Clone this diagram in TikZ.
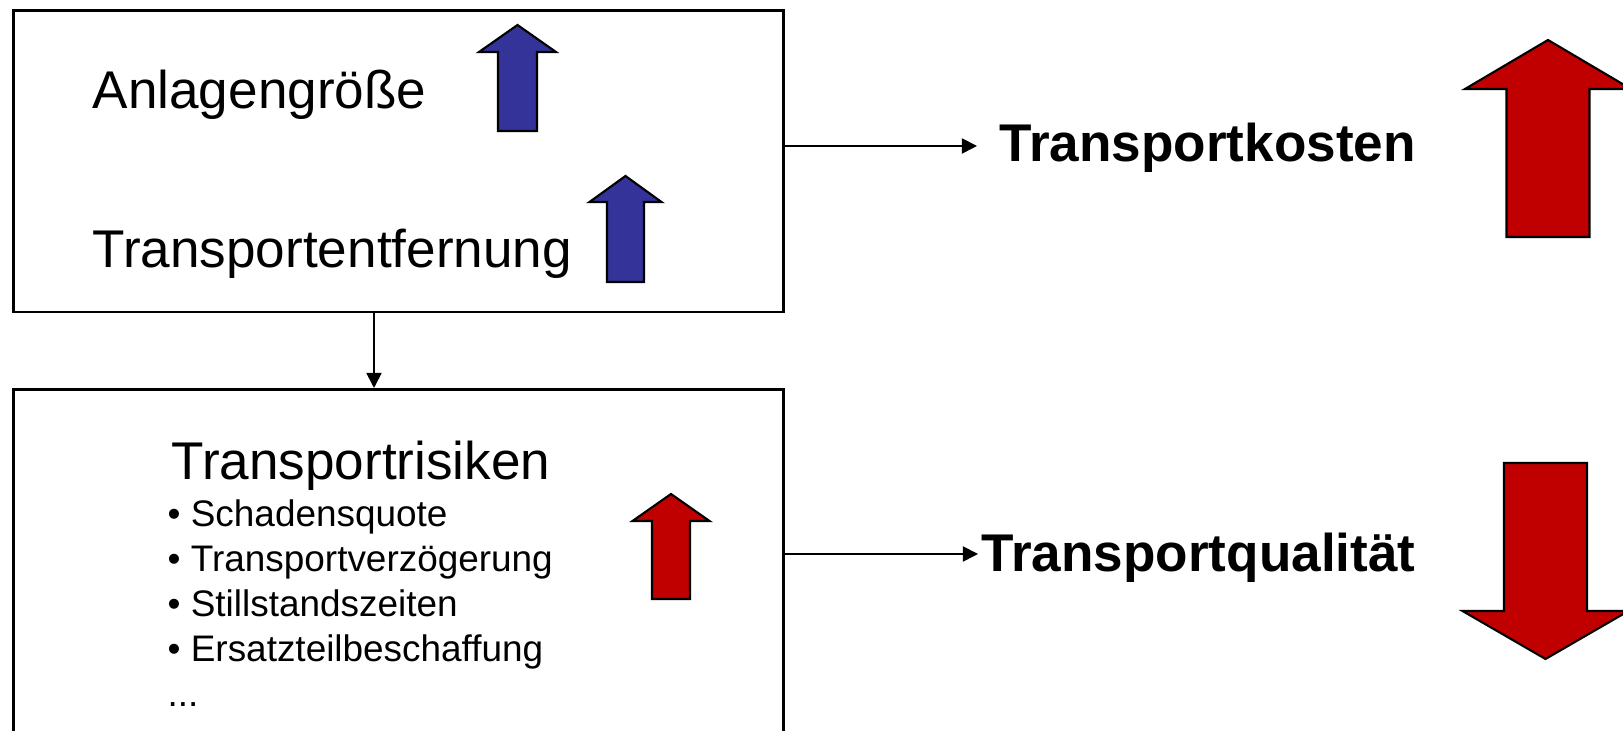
\documentclass[tikz,border=0pt]{standalone}
\usepackage{fontspec}
\setmainfont{Liberation Sans}
\usetikzlibrary{arrows.meta}
\definecolor{hochblau}{RGB}{51,51,153}
\definecolor{hochrot}{RGB}{192,0,0}
\begin{document}
\begin{tikzpicture}[x=0.01cm,y=-0.01cm,line join=miter,>={Triangle[length=4.3pt,width=4.3pt]},
	box/.style={draw,line width=0.8pt,inner sep=0,anchor=north west,minimum width=7.696cm},
	gross/.style={inner sep=0,anchor=base west,font=\fontsize{15.1pt}{18pt}\selectfont},
	fett/.style={gross,font=\fontsize{15.1pt}{18pt}\selectfont\bfseries},
	klein/.style={inner sep=0,anchor=base west,font=\fontsize{10.5pt}{12.75pt}\selectfont}]
	\useasboundingbox[fill=white](0,0)rectangle(1623,731);
	\node[box,minimum height=3.012cm](groesse)at(12.4,9.3){};
	\node[box,minimum height=4cm](risiken)at(12.4,388){};
	\node[gross](anlage)at(92,109){Anlagengröße};
	\node[gross](entfernung)at(92,268){Transportentfernung};
	\node[gross](titel)at(171,480){Transportrisiken};
	\foreach \t[count=\i from 0] in{• Schadensquote,• Transportverzögerung,• Stillstandszeiten,• Ersatzteilbeschaffung}
	\node[klein](punkt\i)at(167,527+44.8*\i){\t};
	\node[klein](weiter)at(167,707){...};
	\node[fett](kosten)at(999,162){Transportkosten};
	\node[fett](qualitaet)at(981,572){Transportqualität};
	\coordinate(knick)at(374,0);
	\coordinate(kostenpfeil)at([yshift=0.16cm]kosten.base west);
	\coordinate(qualpfeil)at([yshift=0.18cm]qualitaet.base west);
	\draw[->,line width=0.5pt](groesse.south-|knick)--(risiken.north-|knick);
	\draw[->,line width=0.5pt,shorten >=0.22cm](groesse.east|-kostenpfeil)--(kostenpfeil);
	\draw[->,line width=0.5pt,shorten >=0.03cm](risiken.east|-qualpfeil)--(qualpfeil);
	\foreach \x/\a/\b/\s/\w/\h/\c in{517.5/131/25/19.5/38.5/27/hochblau,625.5/282/176/18.5/36/26/hochblau,671/599/494/19/38.5/27/hochrot,1548/237/40/41.5/83/49/hochrot,1545.5/463/659/41.5/83/-48/hochrot}
	\filldraw[fill=\c,line width=0.6pt]({\x-\s},\a)--({\x-\s},{\b+(\h)})--({\x-\w},{\b+(\h)})--(\x,\b)--({\x+\w},{\b+(\h)})--({\x+\s},{\b+(\h)})--({\x+\s},\a)--cycle;
\end{tikzpicture}
\end{document}
